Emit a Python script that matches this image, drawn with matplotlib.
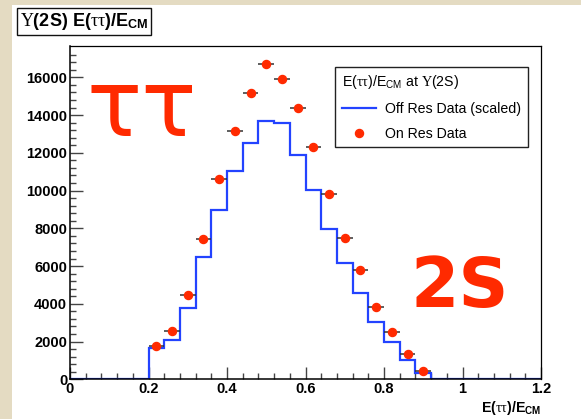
import numpy as np
import matplotlib
matplotlib.use("Agg")
import matplotlib.pyplot as plt
from matplotlib.patches import Rectangle
from matplotlib.lines import Line2D

# ---------------- data ----------------
BIN_LO, BIN_HI, N_BINS = 0.0, 1.2, 30

# off resonance (scaled), one value per bin of width 0.04
off_res = [0, 0, 0, 0, 0,
           1640, 2080, 3780, 6460, 8970, 11040, 12500, 13700, 13570,
           11890, 10030, 7960, 6140, 4570, 3030, 1960, 1020, 320,
           0, 0, 0, 0, 0, 0, 0]

# on resonance points (bin centres 0.22 ... 0.90)
on_x = [0.22, 0.26, 0.30, 0.34, 0.38, 0.42, 0.46, 0.50, 0.54,
        0.58, 0.62, 0.66, 0.70, 0.74, 0.78, 0.82, 0.86, 0.90]
on_y = [1760, 2580, 4480, 7420, 10600, 13160, 15190, 16690, 15910,
        14400, 12330, 9820, 7490, 5780, 3850, 2500, 1340, 420]

y_ticks = [0, 2000, 4000, 6000, 8000, 10000, 12000, 14000, 16000]
x_ticks = [0, 0.2, 0.4, 0.6, 0.8, 1.0, 1.2]
x_tick_labels = ["0", "0.2", "0.4", "0.6", "0.8", "1", "1.2"]

BLUE = "#2343ff"
RED = "#ff2a00"
BEIGE = "#e4dbc2"

plt.rcParams["font.family"] = ["Liberation Sans", "DejaVu Sans"]
plt.rcParams["mathtext.fontset"] = "custom"
plt.rcParams["mathtext.rm"] = "Liberation Serif"
plt.rcParams["mathtext.it"] = "Liberation Serif"
plt.rcParams["mathtext.bf"] = "Liberation Sans:bold"
plt.rcParams["mathtext.sf"] = "Liberation Sans"

W, H = 581, 419
fig = plt.figure(figsize=(W / 100, H / 100), dpi=100, facecolor=BEIGE)
# white canvas behind everything
fig.patches.append(Rectangle((12 / W, 0), 1 - 12 / W, 1 - 5 / H,
                             transform=fig.transFigure, facecolor="white",
                             edgecolor="none", zorder=-10))

ax = fig.add_axes([70 / W, (H - 379.3) / H, 471 / W, 333.3 / H])
ax.set_facecolor("white")

edges = np.linspace(BIN_LO, BIN_HI, N_BINS + 1)
ax.stairs(off_res, edges, color=BLUE, lw=1.6, baseline=None,
          label="Off Res Data (scaled)", zorder=2)

half_w = (BIN_HI - BIN_LO) / N_BINS / 2
ax.errorbar(on_x, on_y, xerr=half_w, fmt="none", ecolor="#333333",
            elinewidth=1.1, capsize=0, zorder=3)
ax.plot(on_x, on_y, "o", color=RED, ms=5.8, mec=RED, zorder=4,
        label="On Res Data")

ax.set_xlim(BIN_LO, BIN_HI)
ax.set_ylim(0, 17660)

ax.set_xticks(x_ticks)
ax.set_xticklabels(x_tick_labels)
ax.set_xticks(np.arange(0, 1.2001, 0.04), minor=True)
ax.set_yticks(y_ticks)
ax.set_yticks(np.arange(0, 17600, 400), minor=True)

ax.tick_params(which="both", direction="in", top=False, right=False,
               color="#444444")
ax.tick_params(which="major", length=9, width=1, labelsize=10.5, pad=2)
ax.tick_params(which="minor", length=4.5, width=1)
for lab in ax.get_xticklabels() + ax.get_yticklabels():
    lab.set_fontweight("bold")

for side in ["left", "bottom"]:
    ax.spines[side].set_linewidth(1.1)
for side in ["top", "right"]:
    ax.spines[side].set_linewidth(0.9)

ax.set_xlabel(r"E($\tau\tau$)/E$_{\mathbf{CM}}$", fontsize=10.2,
              fontweight="bold", loc="right", labelpad=2)

# legend
handles = [Line2D([], [], color=BLUE, lw=1.6),
           Line2D([], [], ls="none", marker="o", color=RED, ms=5.8)]
leg = ax.legend(handles, ["Off Res Data (scaled)", "On Res Data"],
                title=r"E($\tau\tau$)/E$_{\mathsf{CM}}$ at $\Upsilon$(2S)",
                loc="upper left", bbox_to_anchor=(0.563, 0.937),
                fontsize=10.2, title_fontsize=10.2, alignment="left",
                frameon=True, fancybox=False, edgecolor="#222222",
                framealpha=1, handlelength=2.4, handletextpad=0.7,
                borderpad=0.45, labelspacing=0.75, borderaxespad=0)
leg.get_frame().set_linewidth(1.0)

# title box
fig.text(20 / W, 1 - 21.5 / H, r"$\Upsilon$(2S) E($\tau\tau$)/E$_{\mathbf{CM}}$",
         fontsize=13, fontweight="bold", ha="left", va="center",
         bbox=dict(boxstyle="square,pad=0.15", facecolor="white",
                   edgecolor="#111111", lw=1.0))

# big decorative labels
fig.text(142 / W, 1 - 110 / H, "ττ", color=RED, fontsize=66,
         family="DejaVu Sans", ha="center", va="center")
fig.text(460 / W, 1 - 288 / H, "2S", color=RED, fontsize=50,
         family="DejaVu Sans", fontweight="bold", ha="center", va="center")

fig.savefig("out.png", dpi=100, facecolor=BEIGE)
